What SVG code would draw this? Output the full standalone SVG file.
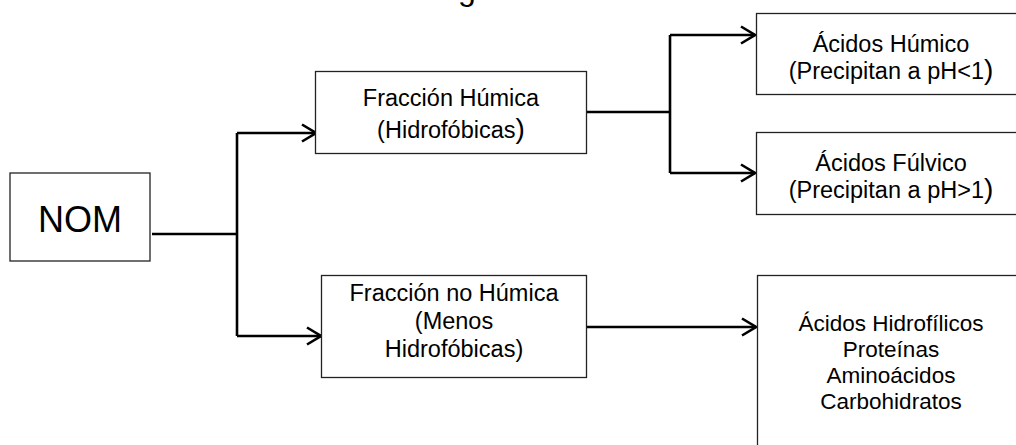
<svg xmlns="http://www.w3.org/2000/svg" width="1016" height="445" viewBox="0 0 1016 445">
<style>
.box{fill:#fff;stroke:#222;stroke-width:1.3}
.t{font-family:"Liberation Sans",Arial,sans-serif;font-size:23.5px;fill:#000;text-anchor:middle}
.s{font-size:22.5px}
.big{font-size:28px}
.c{fill:none;stroke:#000;stroke-width:2.6}
</style>
<defs>
<marker id="arr" viewBox="0 0 16 20" markerWidth="16" markerHeight="20" refX="15" refY="10" markerUnits="userSpaceOnUse" orient="auto">
<path d="M1,1.5 L15,10 L1,18.5" fill="none" stroke="#000" stroke-width="2.6"/>
</marker>
</defs>
<text x="40" y="0" style="font-family:'Liberation Sans',Arial,sans-serif;font-size:32px;fill:#000">ntas como se muestra en la figura.</text>
<g id="connectors">
<path class="c" d="M152,234 H237"/>
<path class="c" d="M237,133 V336"/>
<path class="c" d="M237,133 H316" marker-end="url(#arr)"/>
<path class="c" d="M237,336 H321" marker-end="url(#arr)"/>
<path class="c" d="M587,112 H670"/>
<path class="c" d="M670,35 V173"/>
<path class="c" d="M670,35 H755" marker-end="url(#arr)"/>
<path class="c" d="M670,173 H755" marker-end="url(#arr)"/>
<path class="c" d="M587,327 H756" marker-end="url(#arr)"/>
</g>
<g id="nom">
<rect class="box" x="10" y="173" width="140" height="88"/>
<text class="t" x="80" y="232" style="font-size:36px">NOM</text>
</g>
<g id="humica">
<rect class="box" x="315.5" y="71.5" width="271" height="82"/>
<text class="t" x="451" y="106">Fracción Húmica</text>
<text class="t" x="451" y="138">(Hidrofóbicas<tspan class="big">)</tspan></text>
</g>
<g id="no-humica">
<rect class="box" x="321.5" y="275.5" width="265" height="102"/>
<text class="t" x="454" y="301">Fracción no Húmica</text>
<text class="t" x="454" y="329">(Menos</text>
<text class="t" x="454" y="357">Hidrofóbicas)</text>
</g>
<g id="acidos-humico">
<rect class="box" x="756.5" y="13.5" width="300" height="81"/>
<text class="t" x="891" y="52">Ácidos Húmico</text>
<text class="t" x="891" y="79">(Precipitan a pH&lt;1<tspan class="big">)</tspan></text>
</g>
<g id="acidos-fulvico">
<rect class="box" x="756.5" y="132.5" width="300" height="82"/>
<text class="t" x="891" y="171">Ácidos Fúlvico</text>
<text class="t" x="891" y="198">(Precipitan a pH&gt;1<tspan class="big">)</tspan></text>
</g>
<g id="hidrofilicos">
<rect class="box" x="757.5" y="275.5" width="300" height="200"/>
<text class="t s" x="891" y="331">Ácidos Hidrofílicos</text>
<text class="t s" x="891" y="357">Proteínas</text>
<text class="t s" x="891" y="383">Aminoácidos</text>
<text class="t s" x="891" y="409">Carbohidratos</text>
</g>
</svg>
